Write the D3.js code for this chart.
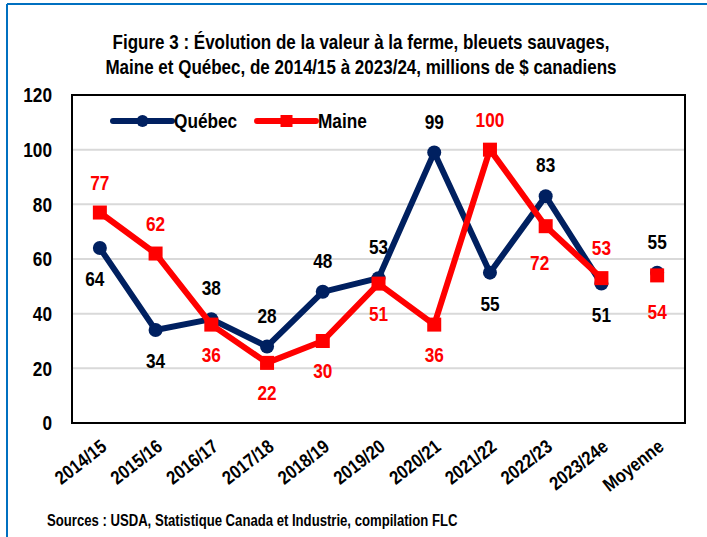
<!DOCTYPE html>
<html>
<head>
<meta charset="utf-8">
<script src="https://cdn.jsdelivr.net/npm/d3@7"></script>
<style>
  body { margin: 0; background: #fff; }
  svg text { font-family: "Liberation Sans Narrow", "Arial Narrow", "Liberation Sans", Arial, sans-serif; font-weight: bold; }
</style>
</head>
<body>
<div id="chart"></div>
<script>
const categories = ["2014/15", "2015/16", "2016/17", "2017/18", "2018/19", "2019/20", "2020/21", "2021/22", "2022/23", "2023/24e", "Moyenne"];
const quebecValues = [64, 34, 38, 28, 48, 53, 99, 55, 83, 51, 55];
const maineValues = [77, 62, 36, 22, 30, 51, 36, 100, 72, 53, 54];
// label placement: 1 = above the point, -1 = below
const quebecLabelSide = [-1, -1, 1, 1, 1, 1, 1, -1, 1, -1, 1];
const maineLabelSide = [1, 1, -1, -1, -1, -1, -1, 1, -1, 1, -1];
const yTicks = [0, 20, 40, 60, 80, 100, 120];
const titleLines = [
  "Figure 3 : Évolution de la valeur à la ferme, bleuets sauvages,",
  "Maine et Québec, de 2014/15 à 2023/24, millions de $ canadiens"
];

const width = 707, height = 537;
const margin = { top: 95, right: 22, bottom: 114, left: 72 };
const chartWidth = width - margin.left - margin.right;
const chartHeight = height - margin.top - margin.bottom;

// squeeze Liberation Sans to look like Arial Narrow
function narrow(sel, k = 0.82) {
  sel.each(function () {
    const w = this.getComputedTextLength();
    d3.select(this).attr("textLength", w * k).attr("lengthAdjust", "spacingAndGlyphs");
  });
}

const svg = d3.select("#chart").append("svg")
  .attr("width", width)
  .attr("height", height);

// Blue frame (left and top edges visible)
svg.append("line").attr("x1", 7).attr("x2", 7).attr("y1", 4).attr("y2", height)
  .attr("stroke", "#0070C0").attr("stroke-width", 2);
svg.append("line").attr("x1", 7).attr("x2", width).attr("y1", 4).attr("y2", 4)
  .attr("stroke", "#0070C0").attr("stroke-width", 2);

// Title (scaled horizontally instead of textLength so the box stays narrow)
svg.selectAll(".title")
  .data(titleLines)
  .enter().append("text")
  .attr("class", "title")
  .attr("transform", (d, i) => `translate(361,${49 + i * 25}) scale(0.81,1)`)
  .attr("text-anchor", "middle")
  .attr("font-size", 21)
  .attr("fill", "#000")
  .text(d => d);

const g = svg.append("g")
  .attr("transform", `translate(${margin.left},${margin.top})`);

const x = d3.scaleBand()
  .domain(categories)
  .range([0, chartWidth]);

const y = d3.scaleLinear()
  .domain([0, 120])
  .range([chartHeight, 0]);

const cx = d => x(d) + x.bandwidth() / 2;

// Gridlines
g.selectAll(".grid")
  .data(yTicks.filter(t => t > 0 && t < 120))
  .enter().append("line")
  .attr("x1", 0).attr("x2", chartWidth)
  .attr("y1", d => y(d)).attr("y2", d => y(d))
  .attr("stroke", "#d9d9d9")
  .attr("stroke-width", 2);

// Y axis labels
const yAxis = g.append("g")
  .call(d3.axisLeft(y).tickValues(yTicks).tickSize(0).tickPadding(20));
yAxis.select(".domain").remove();
yAxis.selectAll("text")
  .attr("font-size", 21)
  .attr("fill", "#000")
  .style("font-family", null)
  .call(narrow);

// X axis labels
const xAxis = g.append("g")
  .attr("transform", `translate(0,${chartHeight})`)
  .call(d3.axisBottom(x).tickSize(0));
xAxis.select(".domain").remove();
xAxis.selectAll("text")
  .attr("font-size", 19)
  .attr("fill", "#000")
  .attr("text-anchor", "end")
  .attr("dy", null)
  .attr("y", 0)
  .attr("transform", "translate(8,26) rotate(-38)")
  .style("font-family", null)
  .call(narrow, 0.86);

// Lines (Moyenne is a standalone marker)
const line = d3.line()
  .x((d, i) => cx(categories[i]))
  .y(d => y(d));

g.append("path")
  .datum(quebecValues.slice(0, 10))
  .attr("fill", "none")
  .attr("stroke", "#002060")
  .attr("stroke-width", 6)
  .attr("stroke-linejoin", "round")
  .attr("d", line);

g.selectAll(".qdot")
  .data(quebecValues)
  .enter().append("circle")
  .attr("cx", (d, i) => cx(categories[i]))
  .attr("cy", d => y(d))
  .attr("r", 7)
  .attr("fill", "#002060");

g.append("path")
  .datum(maineValues.slice(0, 10))
  .attr("fill", "none")
  .attr("stroke", "#FF0000")
  .attr("stroke-width", 6)
  .attr("stroke-linejoin", "miter")
  .attr("d", line);

g.selectAll(".mdot")
  .data(maineValues)
  .enter().append("rect")
  .attr("x", (d, i) => cx(categories[i]) - 7)
  .attr("y", d => y(d) - 7)
  .attr("width", 14)
  .attr("height", 14)
  .attr("fill", "#FF0000");

// Data labels
g.selectAll(".qlabel")
  .data(quebecValues)
  .enter().append("text")
  .attr("x", (d, i) => cx(categories[i]) - (i === 0 ? 5 : 0))
  .attr("y", (d, i) => y(d) - quebecLabelSide[i] * 31)
  .attr("dy", "0.35em")
  .attr("text-anchor", "middle")
  .attr("font-size", 21)
  .attr("fill", "#000")
  .text(d => d)
  .call(narrow);

g.selectAll(".mlabel")
  .data(maineValues)
  .enter().append("text")
  .attr("x", (d, i) => cx(categories[i]) - (i === 8 ? 6 : 0))
  .attr("y", (d, i) => y(d) - maineLabelSide[i] * (i === 8 || i === 10 ? 36 : 30))
  .attr("dy", "0.35em")
  .attr("text-anchor", "middle")
  .attr("font-size", 21)
  .attr("fill", "#FF0000")
  .text(d => d)
  .call(narrow);

// Plot frame
g.append("rect")
  .attr("width", chartWidth)
  .attr("height", chartHeight)
  .attr("fill", "none")
  .attr("stroke", "#000")
  .attr("stroke-width", 2);

// Legend
const legend = g.append("g").attr("transform", "translate(41,26)");
const legendItems = [
  { name: "Québec", color: "#002060", shape: "circle", x: 0 },
  { name: "Maine", color: "#FF0000", shape: "rect", x: 144 }
];
legendItems.forEach(item => {
  const lg = legend.append("g").attr("transform", `translate(${item.x},0)`);
  lg.append("line").attr("x1", 0).attr("x2", 59)
    .attr("stroke", item.color).attr("stroke-width", 6).attr("stroke-linecap", "round");
  if (item.shape === "circle") {
    lg.append("circle").attr("cx", 29.5).attr("r", 6).attr("fill", item.color);
  } else {
    lg.append("rect").attr("x", 23.5).attr("y", -6).attr("width", 12).attr("height", 12).attr("fill", item.color);
  }
  lg.append("text").attr("x", 61).attr("dy", "0.35em")
    .attr("font-size", 21).attr("fill", "#000").text(item.name)
    .call(narrow);
});

// Source note
svg.append("text")
  .attr("x", 47)
  .attr("y", 526)
  .attr("font-size", 16)
  .attr("fill", "#000")
  .text("Sources : USDA, Statistique Canada et Industrie, compilation FLC")
  .call(narrow);
</script>
</body>
</html>
